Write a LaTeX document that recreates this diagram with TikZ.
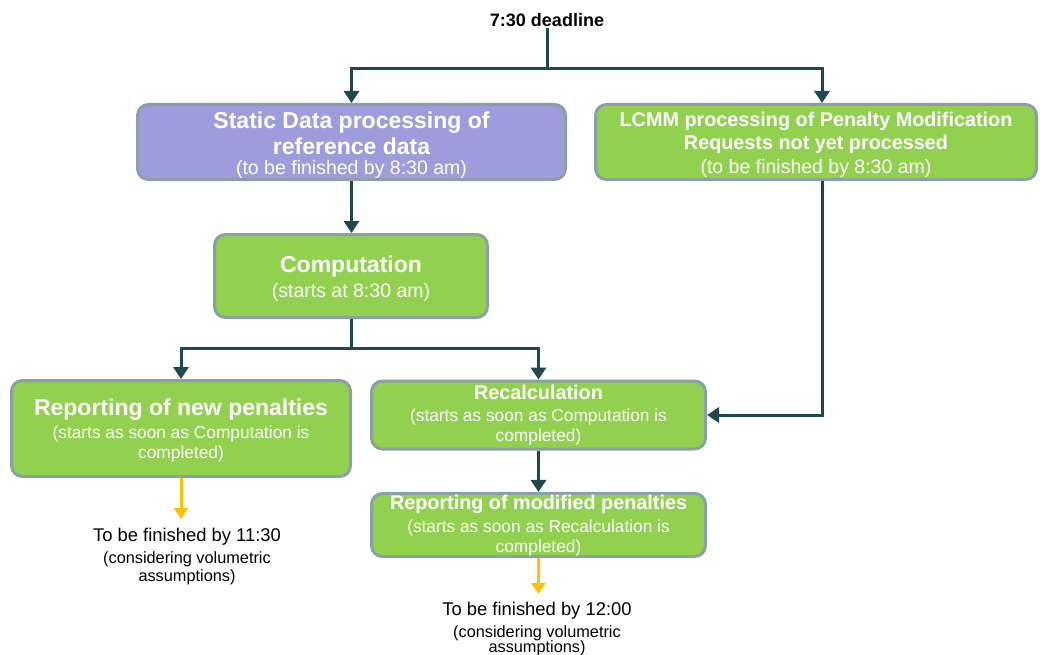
\documentclass[tikz,border=0pt]{standalone}
\usepackage{fontspec}
\setmainfont{Liberation Sans}
\usetikzlibrary{arrows.meta}
\definecolor{lavfill}{RGB}{158,157,220}
\definecolor{grnfill}{RGB}{146,208,80}
\definecolor{bordc}{RGB}{138,160,164}
\definecolor{darkc}{RGB}{31,73,77}
\definecolor{goldc}{RGB}{255,192,0}
\newcommand\bigtf{\fontsize{23}{25}\selectfont\bfseries}
\newcommand\midtf{\fontsize{19.8}{22}\selectfont\bfseries}
\newcommand\smallsubf{\fontsize{17.3}{20}\selectfont}
\newcommand\fintf{\fontsize{18.4}{20}\selectfont}
\newcommand\padtop[1]{\rule{0pt}{#1}}
\tikzset{
  box/.style={draw=bordc, line width=3pt, rounded corners=11pt, text=white,
    align=center, inner sep=0pt, font=\fontsize{19.5}{20}\selectfont},
  lavbox/.style={box, fill=lavfill},
  grnbox/.style={box, fill=grnfill},
  conn/.style={draw=darkc, line width=3pt},
  arr/.style={conn, -{Triangle[length=12pt,width=15pt]}},
  yarr/.style={draw=goldc, line width=3pt, -{Triangle[length=11pt,width=14pt]}},
  fintext/.style={align=center, inner sep=0pt, anchor=north, font=\fontsize{16.3}{18}\selectfont}
}
\begin{document}
\begin{tikzpicture}[x=1pt,y=-1pt]
\useasboundingbox (0,0) rectangle (1040,655);
\fill[white] (0,0) rectangle (1040,655);

\node[font=\fontsize{18}{20}\selectfont\bfseries, inner sep=1pt] (dl) at (547,20) {7:30 deadline};

\node[lavbox, minimum width=428pt, minimum height=75pt] (sd) at (351.5,142)
  {\bigtf\padtop{22.8pt}Static Data processing of\\[4pt]\bigtf reference data\\ (to be finished by 8:30 am)};
\node[grnbox, minimum width=441pt, minimum height=75pt] (lc) at (816,142)
  {\midtf\padtop{20.5pt}LCMM processing of Penalty Modification\\[3pt]\midtf Requests not yet processed\\[4pt] (to be finished by 8:30 am)};
\node[grnbox, minimum width=273pt, minimum height=83pt] (cp) at (351,276)
  {\bigtf\padtop{21.8pt}Computation\\[5pt] (starts at 8:30 am)};
\node[grnbox, minimum width=339pt, minimum height=96pt] (rn) at (181,428.5)
  {\bigtf\padtop{19.8pt}Reporting of new penalties\\[3pt]\smallsubf (starts as soon as Computation is\\\smallsubf completed)};
\node[grnbox, minimum width=334pt, minimum height=68pt] (rc) at (538.5,415)
  {\midtf Recalculation\\[2pt]\smallsubf (starts as soon as Computation is\\\smallsubf completed)};
\node[grnbox, minimum width=334pt, minimum height=62pt] (rm) at (538.5,525)
  {\midtf\padtop{16.5pt}Reporting of modified penalties\\[3pt]\smallsubf (starts as soon as Recalculation is\\\smallsubf completed)};

\node[fintext] (f1) at (187,528) {\fintf To be finished by 11:30\\[4pt] (considering volumetric\\ assumptions)};
\node[fintext] (f2) at (537,602) {\fintf To be finished by 12:00\\[4pt] (considering volumetric\\[-3pt] assumptions)};

% connectors
\coordinate (j1) at (547,69);
\draw[conn] (dl.south) -- (j1);
\draw[arr] (j1) -| (sd.north);
\draw[arr] (j1) -| ([xshift=6pt]lc.north);
\draw[arr] (sd.south) -- (sd.south |- cp.north);
\draw[conn] (cp.south) -- (cp.south |- 0,348) coordinate (j2);
\draw[arr] (j2) -| (rn.north);
\draw[arr] (j2) -| (rc.north);
\draw[arr] ([xshift=6pt]lc.south) |- (rc.east);
\draw[arr] (rc.south) -- (rm.north);
\coordinate (e1) at (181,519);
\coordinate (e2) at (538.5,594);
\draw[yarr] (rn.south) -- (e1);
\draw[yarr] (rm.south) -- (e2);
\end{tikzpicture}
\end{document}
